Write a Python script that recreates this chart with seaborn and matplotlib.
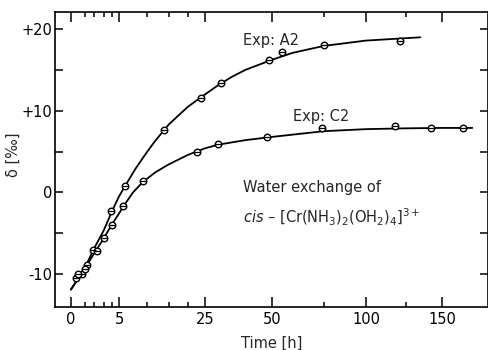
import numpy as np
import pandas as pd
import seaborn as sns
import matplotlib.pyplot as plt
from matplotlib.ticker import FixedLocator, FixedFormatter, NullFormatter

# Measured points: time [h] and delta [permil]
a2_time = [0.36, 0.76, 1.26, 1.86, 3.88, 6.1, 13.9, 23.9, 30.9, 49.0, 54.7, 75.0, 121.3]
a2_delta = [-10.5, -10.0, -8.85, -7.1, -2.3, 0.77, 7.7, 11.6, 13.4, 16.2, 17.2, 18.1, 18.6]
c2_time = [0.48, 1.0, 2.27, 3.04, 4.0, 5.8, 9.3, 22.6, 29.7, 48.0, 73.9, 118.3, 142.4, 167.0]
c2_delta = [-10.0, -9.4, -7.2, -5.6, -3.95, -1.68, 1.35, 5.0, 5.96, 6.73, 7.83, 8.08, 7.87, 7.87]

# Fitted curves
a2_fit_time = [0, 1, 2, 3, 4, 5, 6.1, 8, 10, 12, 15, 20, 25, 30, 35, 40, 50, 60, 75, 100, 135]
a2_fit_delta = [-11.9, -9.2, -6.9, -4.6, -2.3, -0.5, 0.8, 2.95, 4.95, 6.4, 8.35, 10.5, 12.0, 13.15,
                14.15, 15.0, 16.25, 17.1, 17.95, 18.6, 19.0]
c2_fit_time = [0, 1, 2, 3, 4, 5, 5.8, 7.5, 9.3, 12, 15, 20, 25, 30, 40, 50, 75, 100, 125, 150, 175]
c2_fit_delta = [-11.9, -9.3, -7.5, -5.6, -3.9, -2.6, -1.7, 0.0, 1.3, 2.5, 3.45, 4.6, 5.4, 5.85,
                6.4, 6.8, 7.5, 7.75, 7.85, 7.9, 7.9]

# Axis ticks
x_major = [0, 5, 25, 50, 100, 150]
x_minor = [1, 2, 3, 4, 10, 15, 20, 75, 125]
y_major = [-10, 0, 10, 20]
y_major_labels = ['-10', '0', '+10', '+20']
y_minor = [-5, 5, 15]

# The time axis is a hand-made non-linear scale (roughly sqrt); map by its ticks
scale_t = np.array([-100, 0, 1, 2, 3, 4, 5, 10, 15, 20, 25, 50, 75, 100, 125, 150, 188, 1000])
scale_p = np.array([-1329, 71, 85, 94, 104, 112, 119, 147, 169, 188, 205, 272, 324, 366, 406, 442, 488, 1700])


def fwd(t):
    return np.interp(t, scale_t, scale_p)


def inv(p):
    return np.interp(p, scale_p, scale_t)


points = pd.concat([
    pd.DataFrame({'time': a2_time, 'delta': a2_delta, 'exp': 'A2'}),
    pd.DataFrame({'time': c2_time, 'delta': c2_delta, 'exp': 'C2'}),
])

sns.set_style('ticks')
plt.rcParams['font.family'] = ['DejaVu Sans']

fig = plt.figure(figsize=(4.89, 3.5), dpi=100)
ax = fig.add_axes([55 / 489, 1 - 306.7 / 350, 433 / 489, (306.7 - 12) / 350])
ax.set_xscale('function', functions=(fwd, inv))

sns.lineplot(x=a2_fit_time, y=a2_fit_delta, color='black', lw=1.3, ax=ax, sort=False)
sns.lineplot(x=c2_fit_time, y=c2_fit_delta, color='black', lw=1.3, ax=ax, sort=False)

sns.scatterplot(data=points, x='time', y='delta', marker='o', s=22, facecolor='white',
                edgecolor='black', linewidth=1.0, ax=ax, zorder=3)
sns.scatterplot(data=points, x='time', y='delta', marker='_', s=14, color='black',
                linewidth=0.9, ax=ax, zorder=4)

ax.set_xlim(-1.14, 188)
ax.set_ylim(-14.0, 22.1)

ax.xaxis.set_major_locator(FixedLocator(x_major))
ax.xaxis.set_major_formatter(FixedFormatter([str(v) for v in x_major]))
ax.xaxis.set_minor_locator(FixedLocator(x_minor))
ax.xaxis.set_minor_formatter(NullFormatter())
ax.yaxis.set_major_locator(FixedLocator(y_major))
ax.yaxis.set_major_formatter(FixedFormatter(y_major_labels))
ax.yaxis.set_minor_locator(FixedLocator(y_minor))

ax.tick_params(which='both', direction='in', top=True, right=True, width=1.1,
               labelsize=10.5, color='black', labelcolor='black')
ax.tick_params(axis='x', which='major', length=7, pad=4)
ax.tick_params(axis='x', which='minor', length=3.5)
ax.tick_params(axis='y', which='major', length=6, pad=2)
ax.tick_params(axis='y', which='minor', length=6)
for sp in ax.spines.values():
    sp.set_linewidth(1.2)
    sp.set_color('black')

ax.set_xlabel('Time [h]', fontsize=10.5, labelpad=6)
ax.set_ylabel('δ [‰]', fontsize=10.5)
ax.yaxis.set_label_coords(-0.08, 0.515)

ax.text(39.2, 18.6, 'Exp: A2', fontsize=10.5, va='center', ha='left')
ax.text(60.1, 9.3, 'Exp: C2', fontsize=10.5, va='center', ha='left')
ax.text(39.2, 0.6, 'Water exchange of', fontsize=10.5, va='center', ha='left')
ax.text(39.2, -3.1, r'$\it{cis}$ – [Cr(NH$_3$)$_2$(OH$_2$)$_4$]$^{3+}$', fontsize=10.5,
        va='center', ha='left')

fig.savefig('out.png', dpi=100)
